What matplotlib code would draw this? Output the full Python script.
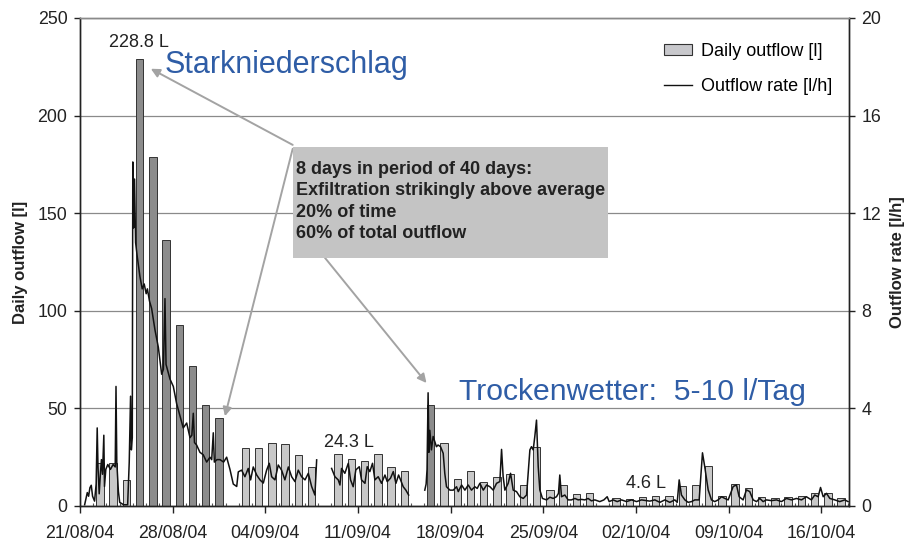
import numpy as np
import pandas as pd
import matplotlib
matplotlib.use("Agg")
import matplotlib.pyplot as plt
import matplotlib.dates as mdates
from matplotlib.patches import Rectangle, Patch
from matplotlib.lines import Line2D

plt.rcParams['font.family'] = ['Liberation Sans', 'DejaVu Sans']

start = pd.Timestamp('2004-08-21')

# daily outflow [l], one value per day from 21/08/04 (nan = no value)
daily_outflow = [np.nan, 22, 22, 13.4, 228.8, 179, 136.4, 92.7, 71.6, 51.5, 45.3,
                 np.nan, 29.5, 29.5, 32.1, 31.8, 26.1, 20.2, np.nan,
                 26.6, 23.9, 23.2, 26.6, 20.1, 18.1, np.nan,
                 51.7, 32.4, 13.7, 18.1, 12.3, 14.7, 16.4, 10.8, 30.4,
                 8.2, 10.6, 6.3, 6.7, np.nan, 4.0, 3.5, 4.6, 5.3, 5.3,
                 10.4, 11.0, 20.5, 5.2, 11.5, 9.0, 4.7, 4.2, 4.7, 5.2, 6.8, 6.6, 4.3]
# the 8 days with strikingly high exfiltration
peak_days = ['2004-08-25', '2004-08-26', '2004-08-27', '2004-08-28',
             '2004-08-29', '2004-08-30', '2004-08-31', '2004-09-16']

# outflow rate [l/h] as (days after 21/08/04 00:00, rate), three recorded pieces
rate_part1 = [(0.35, 0.05), (0.45, 0.3), (0.55, 0.55), (0.65, 0.4), (0.75, 0.75), (0.85, 0.85),
              (0.95, 0.4), (1.1, 0.2), (1.22, 0.9), (1.3, 3.2), (1.36, 1.6), (1.45, 0.5),
              (1.55, 1.4), (1.62, 1.9), (1.7, 1.3), (1.8, 2.9), (1.85, 0.8), (1.95, 1.5),
              (2.1, 1.7), (2.3, 1.5), (2.5, 1.7), (2.66, 1.6), (2.72, 4.9), (2.78, 1.8),
              (2.9, 0.6), (3.0, 0.15), (3.3, 0.05), (3.6, 0.05), (3.72, 1.8), (3.82, 4.5),
              (3.88, 2.3), (3.95, 2.8), (3.99, 14.1), (4.05, 11.4), (4.12, 13.4), (4.2, 10.8),
              (4.33, 10.2), (4.53, 9.4), (4.7, 8.9), (4.85, 9.1), (5.0, 8.7), (5.09, 8.9),
              (5.25, 8.4), (5.41, 8.1), (5.67, 7.2), (5.92, 6.5), (6.17, 5.4), (6.3, 5.6),
              (6.42, 8.5), (6.5, 5.8), (6.8, 5.2), (7.05, 4.9), (7.3, 4.2), (7.55, 3.7),
              (7.8, 3.2), (8.06, 3.4), (8.31, 2.8), (8.45, 2.9), (8.56, 3.8), (8.65, 2.6),
              (8.81, 2.5), (9.06, 2.2), (9.31, 2.1), (9.57, 1.8), (9.82, 2.0), (9.95, 1.9),
              (10.07, 3.0), (10.15, 1.8), (10.35, 1.9), (10.58, 1.9), (10.85, 1.8), (11.08, 2.0),
              (11.33, 1.5), (11.58, 0.9), (11.84, 0.8), (11.96, 1.4), (12.21, 1.47), (12.46, 1.2),
              (12.71, 1.54), (12.89, 1.07), (13.09, 1.6), (13.35, 1.27), (13.6, 1.07), (13.85, 0.94),
              (14.1, 1.47), (14.3, 1.75), (14.48, 1.2), (14.73, 1.07), (14.98, 1.68), (15.23, 1.47),
              (15.48, 1.07), (15.74, 1.6), (15.99, 1.2), (16.24, 1.0), (16.49, 1.47), (16.74, 1.2),
              (17.0, 1.07), (17.25, 1.34), (17.5, 0.8), (17.75, 0.45), (17.88, 1.89)]
rate_part2 = [(19.01, 1.54), (19.26, 1.2), (19.51, 1.07), (19.64, 0.86), (19.76, 1.54), (20.01, 1.34),
              (20.27, 1.75), (20.44, 1.07), (20.64, 0.79), (20.84, 1.48), (21.1, 1.61), (21.27, 1.07),
              (21.53, 0.93), (21.7, 1.61), (21.9, 1.41), (22.1, 1.75), (22.28, 1.07), (22.53, 1.2),
              (22.78, 0.93), (23.04, 1.27), (23.21, 1.0), (23.46, 1.14), (23.67, 1.41), (23.87, 0.93),
              (24.07, 1.27), (24.22, 1.07), (24.42, 0.79), (24.62, 0.65), (24.83, 0.45)]
rate_part3 = [(26.05, 0.65), (26.15, 0.9), (26.22, 1.5), (26.3, 4.64), (26.36, 2.2), (26.43, 3.1),
              (26.55, 2.3), (26.68, 2.85), (26.8, 2.65), (26.93, 2.43), (27.05, 2.5), (27.24, 2.43),
              (27.44, 2.16), (27.56, 1.34), (27.69, 0.79), (27.95, 0.65), (28.2, 0.65), (28.45, 0.79),
              (28.58, 0.59), (28.83, 0.86), (29.08, 0.65), (29.33, 0.86), (29.58, 0.65), (29.83, 0.79),
              (30.01, 0.72), (30.21, 0.93), (30.47, 0.65), (30.72, 0.86), (30.97, 0.79), (31.22, 0.65),
              (31.47, 0.93), (31.72, 1.0), (31.85, 2.32), (31.97, 1.2), (32.1, 0.65), (32.35, 0.93),
              (32.53, 1.34), (32.73, 0.65), (32.98, 0.59), (33.23, 0.38), (33.49, 0.31), (33.74, 0.45),
              (33.99, 2.3), (34.11, 2.43), (34.24, 2.3), (34.36, 2.84), (34.49, 3.52), (34.62, 1.61),
              (34.74, 0.66), (34.94, 0.31), (35.25, 0.25), (35.5, 0.36), (35.75, 0.31), (36.0, 0.38),
              (36.15, 0.52), (36.25, 1.27), (36.38, 0.38), (36.63, 0.45), (36.88, 0.25), (37.13, 0.25),
              (37.39, 0.31), (37.64, 0.25), (37.89, 0.27), (38.14, 0.25), (38.39, 0.31), (38.64, 0.21),
              (38.9, 0.25), (39.27, 0.18), (39.58, 0.25), (39.83, 0.38), (39.98, 0.18), (40.28, 0.25),
              (40.59, 0.18), (40.91, 0.25), (41.29, 0.18), (41.67, 0.25), (42.05, 0.18), (42.42, 0.25),
              (43.05, 0.2), (43.43, 0.25), (43.81, 0.15), (44.19, 0.25), (44.56, 0.15), (44.94, 0.25),
              (45.12, 0.15), (45.27, 1.07), (45.44, 0.45), (45.7, 0.25), (45.95, 0.15), (46.2, 0.18),
              (46.45, 0.25), (46.78, 0.25), (47.03, 2.18), (47.2, 1.61), (47.46, 0.66), (47.71, 0.25),
              (47.96, 0.18), (48.21, 0.25), (48.47, 0.38), (48.72, 0.31), (48.97, 0.25), (49.35, 0.8),
              (49.6, 0.86), (49.8, 0.38), (50.1, 0.25), (50.35, 0.66), (50.6, 0.59), (50.86, 0.25),
              (51.11, 0.18), (51.36, 0.31), (51.61, 0.18), (51.86, 0.25), (52.24, 0.22), (52.62, 0.25),
              (53.0, 0.18), (53.37, 0.31), (53.75, 0.25), (54.13, 0.31), (54.51, 0.25), (54.88, 0.38),
              (55.26, 0.25), (55.51, 0.45), (55.77, 0.38), (55.95, 0.76), (56.15, 0.38), (56.4, 0.52),
              (56.65, 0.31), (57.03, 0.25), (57.4, 0.18), (57.78, 0.25), (58.03, 0.18)]

box_lines = ['8 days in period of 40 days:',
             'Exfiltration strikingly above average',
             '20% of time',
             '60% of total outflow']


def when(d):
    return start + pd.to_timedelta(d, unit='D')


def num(d):
    # date number for annotations placed with ax.transData
    return mdates.date2num(when(d))


days = pd.date_range(start, periods=len(daily_outflow), freq='D')
peaks = pd.to_datetime(peak_days)
bar_colors = ['#8c8c8c' if d in peaks else '#c8c8c8' for d in days]

fig = plt.figure(figsize=(9.11, 5.49), dpi=100)
ax = fig.add_axes([80 / 911, 43 / 549, 769 / 911, 488 / 549])
ax2 = ax.twinx()

ax.bar(days + pd.Timedelta(hours=12), daily_outflow, width=0.56, color=bar_colors,
       edgecolor='#333333', linewidth=0.7, zorder=2)
ax.set_ylim(0, 250)
ax.set_yticks(range(0, 251, 50))
ax.grid(axis='y', color='#8a8a8a', linewidth=0.9, zorder=0)
ax.set_axisbelow(True)

for part in (rate_part1, rate_part2, rate_part3):
    t, r = zip(*part)
    ax2.plot(when(np.array(t)), r, color='#111111', linewidth=1.1)
ax2.set_ylim(0, 20)
ax2.set_yticks(range(0, 21, 4))

ax.set_xlim(start, when(58.1))
ax.set_xticks(pd.date_range(start, periods=9, freq='7D'))
ax.xaxis.set_major_formatter(mdates.DateFormatter('%d/%m/%y'))
ax.xaxis.set_minor_locator(mdates.DayLocator())

for a in (ax, ax2):
    for s in a.spines.values():
        s.set_color('#222222')
        s.set_linewidth(1.0)
    a.spines['top'].set_color('#8a8a8a')
ax.tick_params(axis='x', which='major', length=5, width=1, pad=9, labelsize=12.8, colors='#222222')
ax.tick_params(axis='x', which='minor', length=2.5, direction='in', width=0.8, color='#555555')
ax.tick_params(axis='y', length=4, width=1, pad=5, labelsize=12.8, colors='#222222')
ax2.tick_params(axis='y', length=4, width=1, pad=5, labelsize=12.8, colors='#222222')

ax.set_ylabel('Daily outflow [l]', fontsize=12, fontweight='bold', color='#222222', labelpad=7)
ax2.set_ylabel('Outflow rate [l/h]', fontsize=12, fontweight='bold', color='#222222', labelpad=6)

# annotations (drawn on the upper axes, in daily-outflow coordinates)
tr = ax.transData
box = Rectangle((num(16.07), 127.2), 23.83, 56.9, transform=tr,
                facecolor='#c4c4c4', edgecolor='none', zorder=5)
ax2.add_patch(box)
for i, line in enumerate(box_lines):
    ax2.text(num(16.3), 172.2 - 10.8 * i, line, transform=tr, fontsize=13, fontweight='bold',
             color='#222222', va='center', ha='left', zorder=6)

arrow = dict(arrowstyle='-|>', color='#a3a3a3', lw=1.4, mutation_scale=13, shrinkA=0, shrinkB=0)
ax2.annotate('', xy=(num(5.35), 224), xytext=(num(16.07), 185), xycoords=tr, textcoords=tr,
             arrowprops=arrow, zorder=4)
ax2.annotate('', xy=(num(10.95), 46), xytext=(num(16.07), 183), xycoords=tr, textcoords=tr,
             arrowprops=arrow, zorder=4)
ax2.annotate('', xy=(num(26.18), 63), xytext=(num(18.5), 127.2), xycoords=tr, textcoords=tr,
             arrowprops=arrow, zorder=4)

ax2.text(num(4.46), 237.2, '228.8 L', transform=tr, fontsize=13, color='#222222', ha='center', va='center')
ax2.text(num(20.35), 32.4, '24.3 L', transform=tr, fontsize=13, color='#222222', ha='center', va='center')
ax2.text(num(42.74), 11.3, '4.6 L', transform=tr, fontsize=13, color='#222222', ha='center', va='center')

blue = '#2f5da6'
ax2.text(num(6.4), 222, 'Starkniederschlag', transform=tr, fontsize=22, color=blue,
         ha='left', va='baseline')
ax2.text(num(28.65), 54.3, 'Trockenwetter:  5-10 l/Tag', transform=tr, fontsize=21.7, color=blue,
         ha='left', va='baseline')

handles = [Patch(facecolor='#c8c8cc', edgecolor='#333333', linewidth=0.8),
           Line2D([], [], color='#111111', linewidth=1.0)]
ax2.legend(handles, ['Daily outflow [l]', 'Outflow rate [l/h]'], loc='upper left',
           bbox_to_anchor=(664 / 911, 1 - 43 / 549), bbox_transform=fig.transFigure,
           frameon=False, fontsize=13, handlelength=1.55, handleheight=0.5,
           handletextpad=0.5, labelspacing=1.0, borderpad=0, borderaxespad=0)

fig.savefig('out.png', dpi=100)
